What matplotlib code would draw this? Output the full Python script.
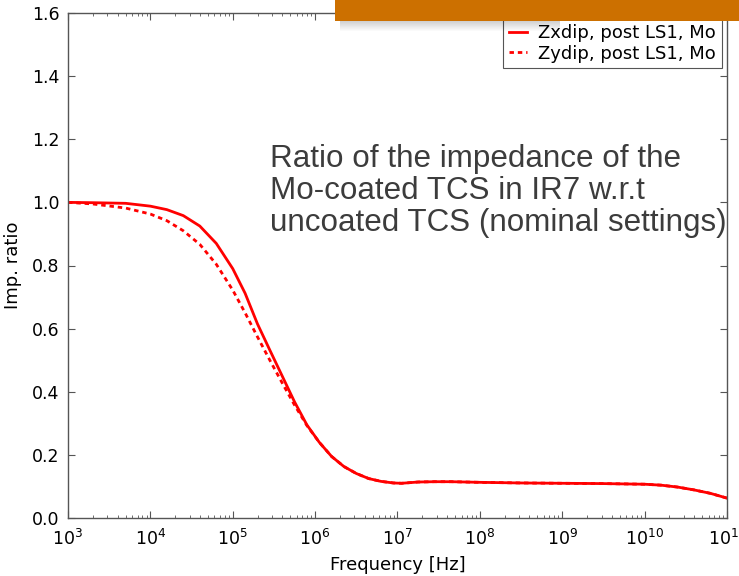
import numpy as np
import matplotlib
matplotlib.use("Agg")
import matplotlib.pyplot as plt
from matplotlib.patches import Rectangle

# ---- data ----
# frequencies given as log10(f / Hz)
log10_freq_x = [3.0, 3.3, 3.7, 4.0, 4.2, 4.4, 4.6, 4.8, 5.0, 5.15, 5.3, 5.45, 5.6,
                5.75, 5.9, 6.05, 6.2, 6.35, 6.5, 6.65, 6.8, 6.95, 7.05, 7.25, 7.45,
                7.65, 8.0, 8.5, 9.0, 9.5, 10.0, 10.2, 10.4, 10.6, 10.8, 11.0]
zxdip = [1.000, 0.999, 0.997, 0.988, 0.977, 0.958, 0.925, 0.870, 0.790, 0.712, 0.615,
         0.532, 0.450, 0.368, 0.295, 0.240, 0.195, 0.163, 0.141, 0.125, 0.116, 0.111,
         0.110, 0.114, 0.115, 0.115, 0.113, 0.111, 0.110, 0.109, 0.107, 0.104, 0.098,
         0.089, 0.078, 0.063]

log10_freq_y = [3.0, 3.3, 3.7, 4.0, 4.2, 4.4, 4.6, 4.8, 5.0, 5.15, 5.3, 5.45, 5.6,
                5.75, 5.9, 6.05, 6.2, 6.35, 6.5, 6.65, 6.8, 6.95, 7.05, 7.25, 7.45,
                7.65, 8.0, 8.5, 9.0, 9.5, 10.0, 10.2, 10.4, 10.6, 10.8, 11.0]
zydip = [1.000, 0.995, 0.982, 0.963, 0.942, 0.910, 0.867, 0.804, 0.722, 0.650, 0.574,
         0.500, 0.428, 0.358, 0.293, 0.240, 0.195, 0.163, 0.141, 0.125, 0.116, 0.111,
         0.110, 0.114, 0.115, 0.115, 0.113, 0.111, 0.110, 0.109, 0.107, 0.104, 0.098,
         0.089, 0.078, 0.063]

labels = ["Zxdip, post LS1, Mo", "Zydip, post LS1, Mo"]
yticks = [0.0, 0.2, 0.4, 0.6, 0.8, 1.0, 1.2, 1.4, 1.6]
xtick_exponents = [3, 4, 5, 6, 7, 8, 9, 10, 11]
annotation = "Ratio of the impedance of the\nMo-coated TCS in IR7 w.r.t\nuncoated TCS (nominal settings)"

# ---- figure ----
W, H = 739, 576
fig = plt.figure(figsize=(W / 100, H / 100), dpi=100)
ax = fig.add_axes([68 / W, 1 - 518 / H, (727 - 68) / W, (518 - 13) / H])

fx = 10.0 ** np.array(log10_freq_x)
fy = 10.0 ** np.array(log10_freq_y)
ax.semilogx(fx, zxdip, color="red", lw=2, label=labels[0])
ax.semilogx(fy, zydip, color="red", lw=2, ls=(0, (1.6, 1.4)), label=labels[1])

ax.set_xlim(1e3, 1e11)
ax.set_ylim(0, 1.6)
ax.set_yticks(yticks)
ax.set_yticklabels([f"{v:.1f}" for v in yticks])
ax.set_xticks([10.0 ** k for k in xtick_exponents])

ax.tick_params(which="both", direction="in", top=True, right=True,
               colors="#555555", labelcolor="black", labelsize=12.5)
ax.tick_params(which="major", length=5, width=0.8)
ax.tick_params(axis="x", which="major", pad=8)
ax.tick_params(axis="y", which="major", pad=6)
ax.tick_params(which="minor", length=2.5, width=0.6)
for s in ax.spines.values():
    s.set_color("#555555")
    s.set_linewidth(1.0)

ax.set_xlabel("Frequency [Hz]", fontsize=13, labelpad=5)
ax.set_ylabel("Imp. ratio", fontsize=13, labelpad=7)

leg = ax.legend(loc="upper right", fontsize=13, frameon=True, fancybox=False,
                framealpha=1, edgecolor="#555555", borderaxespad=0.3,
                handlelength=1.0, handletextpad=0.65, labelspacing=0.15,
                borderpad=0.3)
leg.get_frame().set_linewidth(0.8)

fig.text(270 / W, 1 - 144 / H, annotation, fontsize=22.6, family="Liberation Sans",
         color="#3c3c3c", va="top", ha="left", linespacing=1.08)

# shadow below the overlay bar
for i in range(10):
    fig.patches.append(Rectangle((340 / W, 1 - (22 + i) / H), (560 - 340) / W, 1 / H,
                                 transform=fig.transFigure, facecolor="black",
                                 edgecolor="none", alpha=0.18 * (1 - i / 10)))
# orange overlay bar
fig.patches.append(Rectangle((335 / W, 1 - 21 / H), (W - 335) / W, 21 / H,
                             transform=fig.transFigure, facecolor="#cc7000",
                             edgecolor="none"))

fig.savefig("out.png", dpi=100)
